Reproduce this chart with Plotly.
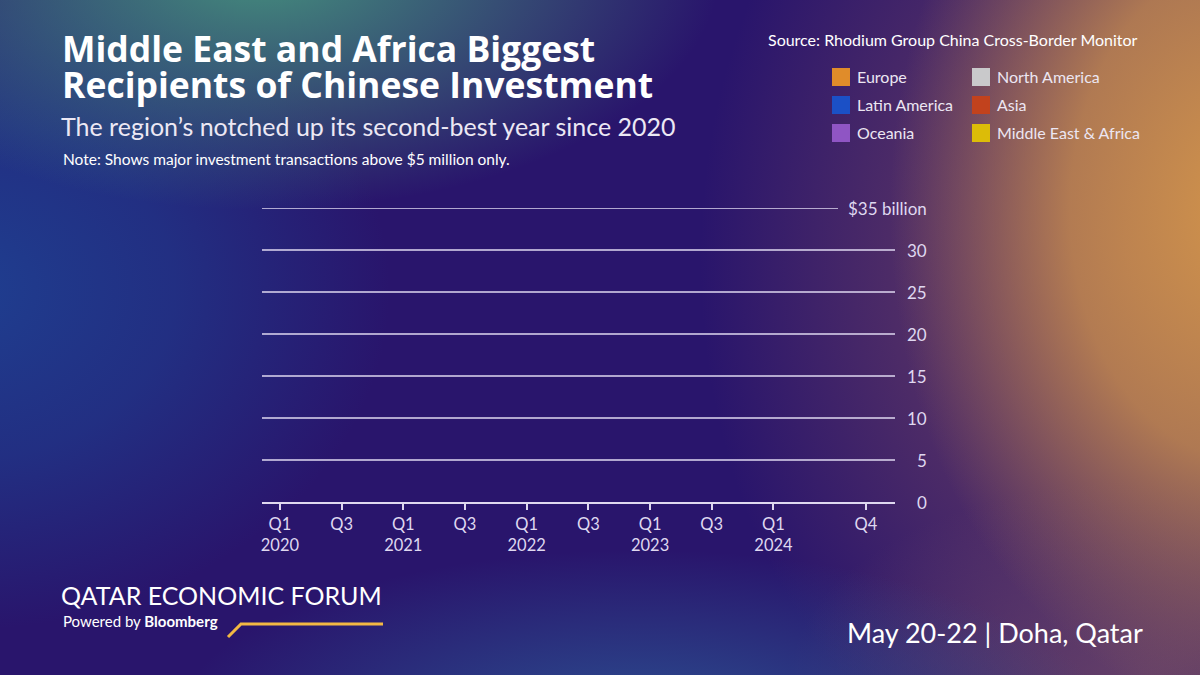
#!/usr/bin/env python3
# -*- coding: utf-8 -*-

import base64
import plotly.graph_objects as go

# Quarters on the x axis (Q1 2020 .. Q4 2024)
quarters = [
    "2020 Q1", "2020 Q2", "2020 Q3", "2020 Q4",
    "2021 Q1", "2021 Q2", "2021 Q3", "2021 Q4",
    "2022 Q1", "2022 Q2", "2022 Q3", "2022 Q4",
    "2023 Q1", "2023 Q2", "2023 Q3", "2023 Q4",
    "2024 Q1", "2024 Q2", "2024 Q3", "2024 Q4",
]

# The reference frame shows no bars yet, so every value is zero
europe        = [0, 0, 0, 0, 0, 0, 0, 0, 0, 0, 0, 0, 0, 0, 0, 0, 0, 0, 0, 0]
north_america = [0, 0, 0, 0, 0, 0, 0, 0, 0, 0, 0, 0, 0, 0, 0, 0, 0, 0, 0, 0]
latin_america = [0, 0, 0, 0, 0, 0, 0, 0, 0, 0, 0, 0, 0, 0, 0, 0, 0, 0, 0, 0]
asia          = [0, 0, 0, 0, 0, 0, 0, 0, 0, 0, 0, 0, 0, 0, 0, 0, 0, 0, 0, 0]
oceania       = [0, 0, 0, 0, 0, 0, 0, 0, 0, 0, 0, 0, 0, 0, 0, 0, 0, 0, 0, 0]
mea           = [0, 0, 0, 0, 0, 0, 0, 0, 0, 0, 0, 0, 0, 0, 0, 0, 0, 0, 0, 0]

# Legend order is row by row: left column then right column
region_names = ["Europe", "North America", "Latin America", "Asia", "Oceania", "Middle East & Africa"]
region_values = [europe, north_america, latin_america, asia, oceania, mea]
region_colors = ["#e08c2a", "#c9c9cb", "#1b50c6", "#c2421d", "#8f55c4", "#dcbc08"]

tick_vals = ["2020 Q1", "2020 Q3", "2021 Q1", "2021 Q3", "2022 Q1", "2022 Q3",
             "2023 Q1", "2023 Q3", "2024 Q1", "2024 Q4"]
tick_text = ["Q1<br>2020", "Q3", "Q1<br>2021", "Q3", "Q1<br>2022", "Q3",
             "Q1<br>2023", "Q3", "Q1<br>2024", "Q4"]

y_ticks = [0, 5, 10, 15, 20, 25, 30, 35]
y_labels = ["0", "5", "10", "15", "20", "25", "30", "$35 billion"]

W, H = 1200, 675
FONT = "Lato"
LAV = "#dfd8f0"


def px(x):
    return x / W


def py(y):
    return 1 - y / H


# Soft gradient backdrop, drawn as an svg and laid under the figure
svg = """<svg xmlns="http://www.w3.org/2000/svg" width="1200" height="675" viewBox="0 0 1200 675">
<defs>
<radialGradient id="g1"><stop offset="0" stop-color="#1f3f90" stop-opacity="1"/><stop offset="0.5" stop-color="#1f3a8c" stop-opacity="0.7"/><stop offset="1" stop-color="#1f3a8c" stop-opacity="0"/></radialGradient>
<radialGradient id="g2"><stop offset="0" stop-color="#46957e" stop-opacity="0.95"/><stop offset="1" stop-color="#46957e" stop-opacity="0"/></radialGradient>
<radialGradient id="g3"><stop offset="0" stop-color="#7e4a60" stop-opacity="0.95"/><stop offset="1" stop-color="#7e4a60" stop-opacity="0"/></radialGradient>
<radialGradient id="g4"><stop offset="0" stop-color="#d4954a" stop-opacity="1"/><stop offset="0.5" stop-color="#c48a4e" stop-opacity="0.8"/><stop offset="1" stop-color="#a87452" stop-opacity="0"/></radialGradient>
<radialGradient id="g5"><stop offset="0" stop-color="#2c5a98" stop-opacity="0.85"/><stop offset="1" stop-color="#2c5a98" stop-opacity="0"/></radialGradient>
<radialGradient id="g6"><stop offset="0" stop-color="#6a4468" stop-opacity="0.9"/><stop offset="1" stop-color="#6a4468" stop-opacity="0"/></radialGradient>
</defs>
<rect width="1200" height="675" fill="#29156c"/>
<ellipse cx="-40" cy="290" rx="430" ry="340" fill="url(#g1)"/>
<ellipse cx="260" cy="-30" rx="460" ry="240" fill="url(#g2)"/>
<ellipse cx="1130" cy="260" rx="430" ry="560" fill="url(#g3)"/>
<ellipse cx="1150" cy="680" rx="360" ry="200" fill="url(#g6)"/>
<ellipse cx="1250" cy="210" rx="360" ry="500" fill="url(#g4)"/>
<ellipse cx="640" cy="730" rx="470" ry="180" fill="url(#g5)"/>
</svg>"""
bg_src = "data:image/svg+xml;base64," + base64.b64encode(svg.encode()).decode()

fig = go.Figure()

for name, vals, color in zip(region_names, region_values, region_colors):
    fig.add_trace(go.Bar(
        x=quarters, y=vals, name=name,
        marker=dict(color=color, line=dict(width=0)),
        showlegend=False,
    ))

shapes = []
annotations = []

# Horizontal grid lines, the top one stops short of its longer label
for v in y_ticks[1:]:
    x_end = px(838) if v == y_ticks[-1] else px(895)
    shapes.append(dict(type="line", xref="paper", yref="y", x0=px(262), x1=x_end,
                       y0=v, y1=v, line=dict(color=LAV, width=1.6), layer="below"))

# Right aligned y labels
for v, lab in zip(y_ticks, y_labels):
    annotations.append(dict(xref="paper", yref="y", x=px(929), y=v, text=lab,
                            showarrow=False, xanchor="right", yanchor="middle",
                            font=dict(family=FONT, size=17, color=LAV)))

# Hand made legend: two columns of colored squares
for i, (name, color) in enumerate(zip(region_names, region_colors)):
    col, row = i % 2, i // 2
    x0 = 832 + col * 140
    yc = 77 + row * 28
    shapes.append(dict(type="rect", xref="paper", yref="paper",
                       x0=px(x0), x1=px(x0 + 18), y0=py(yc + 9), y1=py(yc - 9),
                       fillcolor=color, line=dict(width=0)))
    annotations.append(dict(xref="paper", yref="paper", x=px(x0 + 23), y=py(yc - 0.5), text=name,
                            showarrow=False, xanchor="left", yanchor="middle",
                            font=dict(family=FONT, size=16, color="#ece6f2")))

# Text blocks
texts = [
    (60, 48, "<b>Middle East and Africa Biggest</b>", 35.5, "white", "left", "Open Sans"),
    (60, 84, "<b>Recipients of Chinese Investment</b>", 35.5, "white", "left", "Open Sans"),
    (59, 126, "The region’s notched up its second-best year since 2020", 25, "#ece8f4", "left", FONT),
    (61, 159, "Note: Shows major investment transactions above $5 million only.", 15.5, "white", "left", FONT),
    (1140, 39, "Source: Rhodium Group China Cross-Border Monitor", 16, "white", "right", FONT),
    (59, 595, "QATAR ECONOMIC FORUM", 25, "white", "left", FONT),
    (61, 621, "Powered by <b>Bloomberg</b>", 15, "white", "left", FONT),
    (1145, 632, "May 20-22 | Doha, Qatar", 27, "white", "right", FONT),
]
for x, y, t, size, color, anchor, fam in texts:
    annotations.append(dict(xref="paper", yref="paper", x=px(x), y=py(y), text=t,
                            showarrow=False, xanchor=anchor, yanchor="middle",
                            font=dict(family=fam, size=size, color=color)))

# Gold swoosh under the forum name
shapes.append(dict(type="path", xref="paper", yref="paper",
                   path="M %f %f L %f %f L %f %f" % (px(228), py(637), px(241), py(624), px(383), py(624)),
                   line=dict(color="#f3b843", width=3)))

fig.update_layout(
    width=W, height=H,
    barmode="stack",
    margin=dict(l=0, r=0, t=0, b=0),
    paper_bgcolor="#29156c",
    plot_bgcolor="rgba(0,0,0,0)",
    font=dict(family=FONT, color=LAV),
    images=[dict(source=bg_src, xref="paper", yref="paper", x=0, y=1,
                 sizex=1, sizey=1, sizing="stretch", layer="below",
                 xanchor="left", yanchor="top")],
    xaxis=dict(
        domain=[px(262), px(895)],
        type="category",
        categoryorder="array", categoryarray=quarters,
        range=[-0.58, 19.94],
        tickmode="array", tickvals=tick_vals, ticktext=tick_text,
        ticks="outside", ticklen=6, tickwidth=1.5, tickcolor=LAV,
        tickfont=dict(family=FONT, size=16.5, color=LAV),
        showline=True, linecolor=LAV, linewidth=2,
        showgrid=False, zeroline=False, fixedrange=True,
    ),
    yaxis=dict(
        domain=[py(502), py(208)],
        range=[0, 35],
        showticklabels=False, showgrid=False, zeroline=False,
        fixedrange=True,
    ),
    shapes=shapes,
    annotations=annotations,
)

# page margin off so the figure sits flush in the window
fig.write_html("out.html", config={"displayModeBar": False},
               post_script="document.body.style.margin='0';")
